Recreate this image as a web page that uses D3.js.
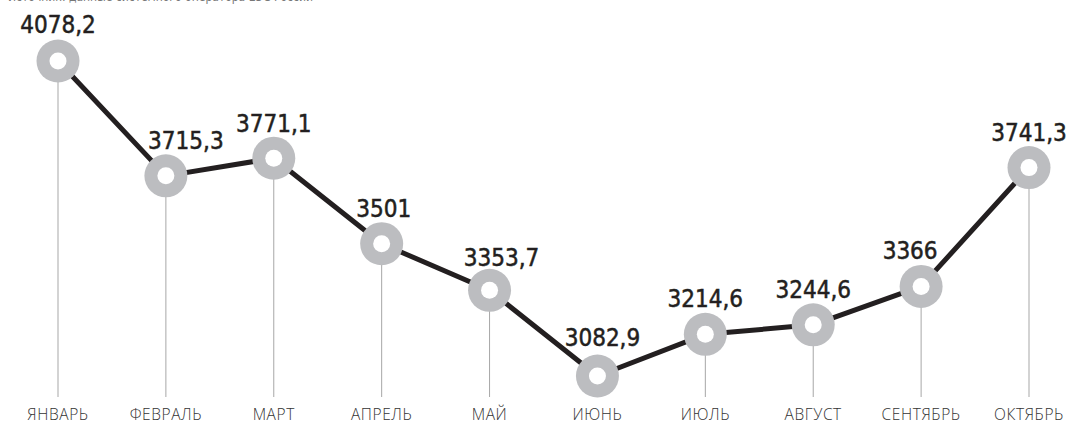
<!DOCTYPE html>
<html><head><meta charset="utf-8">
<script src="https://cdn.jsdelivr.net/npm/d3@7"></script>
<style>
html,body{margin:0;padding:0;background:#fff;}
svg{display:block;}
</style></head>
<body>
<script>
const months = ["ЯНВАРЬ","ФЕВРАЛЬ","МАРТ","АПРЕЛЬ","МАЙ","ИЮНЬ","ИЮЛЬ","АВГУСТ","СЕНТЯБРЬ","ОКТЯБРЬ"];
const values = [4078.2,3715.3,3771.1,3501,3353.7,3082.9,3214.6,3244.6,3366,3741.3];
const valueLabels = ["4078,2","3715,3","3771,1","3501","3353,7","3082,9","3214,6","3244,6","3366","3741,3"];
const sourceText = "Источник: данные системного оператора ЕЭС России";

const W = 1069, H = 424;
const labelDx = [0,20,0,2,12,5,0,0,-11,0];
const labelDy = [-28,-27,-26,-27,-24,-30,-27,-27,-27,-27];

const svg = d3.select("body").append("svg").attr("width",W).attr("height",H);
const x = d3.scalePoint().domain(months).range([58,1029]);
const y = d3.scaleLinear().domain([3082.9,4078.2]).range([376,61]);
const data = months.map((m,i)=>({m, v:values[i], lab:valueLabels[i], i}));

const numFont = "'DejaVu Sans Condensed','Liberation Sans Narrow',Roboto,sans-serif";

svg.append("text").attr("x",8).attr("y",1).attr("font-family",numFont)
  .attr("font-size",12).attr("fill","#777").text(sourceText);

// drop lines
svg.selectAll("line.drop").data(data).enter().append("line")
  .attr("x1",d=>x(d.m)).attr("x2",d=>x(d.m))
  .attr("y1",d=>y(d.v)).attr("y2",397)
  .attr("stroke","#a7a7a7").attr("stroke-width",1);

// month labels
svg.selectAll("text.month").data(data).enter().append("text")
  .attr("x",d=>x(d.m)).attr("y",420).attr("text-anchor","middle")
  .attr("font-family","'Open Sans','Noto Sans',sans-serif").attr("font-size",15.5).attr("font-weight",300)
  .attr("letter-spacing",0.6)
  .attr("fill","#333").text(d=>d.m);

// line
svg.append("path").datum(data)
  .attr("d", d3.line().x(d=>x(d.m)).y(d=>y(d.v)))
  .attr("fill","none").attr("stroke","#231f20").attr("stroke-width",5).attr("stroke-linejoin","round");

// markers
svg.selectAll("circle.mk").data(data).enter().append("circle")
  .attr("cx",d=>x(d.m)).attr("cy",d=>y(d.v)).attr("r",21.5).attr("fill","#bcbdc0");
svg.selectAll("circle.hole").data(data).enter().append("circle")
  .attr("cx",d=>x(d.m)).attr("cy",d=>y(d.v)).attr("r",8.5).attr("fill","#fff");

// value labels
svg.selectAll("text.val").data(data).enter().append("text")
  .attr("x",d=>x(d.m)+labelDx[d.i]).attr("y",d=>y(d.v)+labelDy[d.i])
  .attr("text-anchor","middle").attr("font-family",numFont)
  .attr("font-size",24).attr("fill","#231f20")
  .attr("stroke","#231f20").attr("stroke-width",0.5)
  .text(d=>d.lab);
</script>
</body></html>
